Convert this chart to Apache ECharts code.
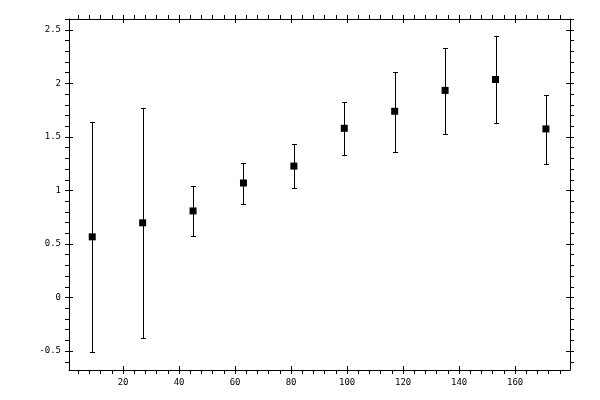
<!DOCTYPE html>
<html>
<head>
<meta charset="utf-8">
<script src="https://cdn.jsdelivr.net/npm/echarts@6/dist/echarts.min.js"></script>
<style>html,body{margin:0;padding:0;background:#fff}#c{width:600px;height:400px}</style>
</head>
<body>
<div id="c"></div>
<script>
const xValues = [9, 27, 45, 63, 81, 99, 117, 135, 153, 171];
const means = [0.567, 0.698, 0.809, 1.070, 1.228, 1.581, 1.740, 1.935, 2.037, 1.575];
const upper = [1.643, 1.773, 1.038, 1.256, 1.433, 1.823, 2.108, 2.335, 2.447, 1.894];
const lower = [-0.509, -0.381, 0.577, 0.874, 1.023, 1.330, 1.358, 1.526, 1.628, 1.247];
const xTicks = [20, 40, 60, 80, 100, 120, 140, 160];
const yTicks = [-0.5, 0, 0.5, 1, 1.5, 2, 2.5];

const X_MIN = 0.7, X_MAX = 179.6, Y_MIN = -0.677, Y_MAX = 2.602;
const xMinor = []; for (let v = 4; v < X_MAX; v += 4) if (v % 20 !== 0) xMinor.push(v);
const yMinor = []; for (let k = -6; k <= 26; k++) if (k % 5 !== 0) yMinor.push(k / 10);

const font = { fontFamily: 'DejaVu Sans Mono', fontSize: 9, color: '#000' };
const lineStyle = { color: '#000', width: 1 };

function mkAxis(kind, pos, opts) {
  return {
    type: 'value', position: pos, min: kind === 'x' ? X_MIN : Y_MIN, max: kind === 'x' ? X_MAX : Y_MAX,
    splitLine: { show: false },
    axisLine: { show: !!opts.line, onZero: false, lineStyle: lineStyle },
    axisTick: { show: true, inside: !!opts.inside, length: 4, customValues: opts.ticks, lineStyle: lineStyle },
    axisLabel: opts.labels ? Object.assign({ customValues: opts.labels, margin: 8, formatter: v => String(v) }, font) : { show: false }
  };
}

const xAxis = [
  mkAxis('x', 'bottom', { line: true, ticks: xTicks, labels: xTicks }),
  mkAxis('x', 'bottom', { inside: true, ticks: xTicks }),
  mkAxis('x', 'bottom', { ticks: xMinor }),
  mkAxis('x', 'top', { line: true, ticks: xTicks }),
  mkAxis('x', 'top', { inside: true, ticks: xTicks }),
  mkAxis('x', 'top', { ticks: xMinor })
];
const yAxis = [
  mkAxis('y', 'left', { line: true, ticks: yTicks, labels: yTicks }),
  mkAxis('y', 'left', { inside: true, ticks: yTicks }),
  mkAxis('y', 'left', { ticks: yMinor }),
  mkAxis('y', 'right', { line: true, ticks: yTicks }),
  mkAxis('y', 'right', { inside: true, ticks: yTicks }),
  mkAxis('y', 'right', { ticks: yMinor })
];

const points = xValues.map((x, i) => [x, means[i]]);
const bars = xValues.map((x, i) => [x, lower[i], upper[i]]);

const chart = echarts.init(document.getElementById('c'), null, { renderer: 'canvas' });
chart.setOption({
  animation: false,
  backgroundColor: '#fff',
  grid: { left: 69, top: 19, right: 30, bottom: 30, containLabel: false },
  xAxis: xAxis,
  yAxis: yAxis,
  series: [
    {
      type: 'custom', xAxisIndex: 0, yAxisIndex: 0, data: bars,
      renderItem: function (params, api) {
        const lo = api.coord([api.value(0), api.value(1)]);
        const hi = api.coord([api.value(0), api.value(2)]);
        const x = Math.round(lo[0]) + 0.5;
        const yl = Math.round(lo[1]) + 0.5, yh = Math.round(hi[1]) + 0.5;
        const st = { stroke: '#000', lineWidth: 1 };
        return {
          type: 'group', children: [
            { type: 'line', shape: { x1: x, y1: yl, x2: x, y2: yh }, style: st },
            { type: 'line', shape: { x1: x - 2.5, y1: yl, x2: x + 2.5, y2: yl }, style: st },
            { type: 'line', shape: { x1: x - 2.5, y1: yh, x2: x + 2.5, y2: yh }, style: st }
          ]
        };
      }
    },
    {
      type: 'scatter', xAxisIndex: 0, yAxisIndex: 0, data: points,
      symbol: 'rect', symbolSize: 7, itemStyle: { color: '#000', opacity: 1 }
    }
  ]
});
</script>
</body>
</html>
